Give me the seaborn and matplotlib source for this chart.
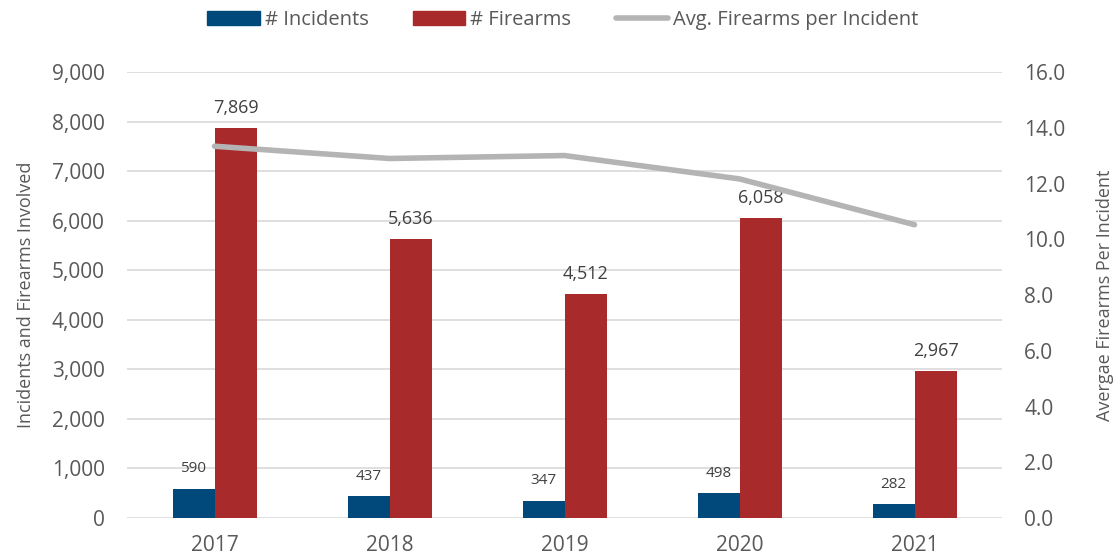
import numpy as np
import pandas as pd
import seaborn as sns
import matplotlib.pyplot as plt
from matplotlib.patches import Patch
from matplotlib.lines import Line2D

years     = ["2017", "2018", "2019", "2020", "2021"]
incidents = [590, 437, 347, 498, 282]
firearms  = [7869, 5636, 4512, 6058, 2967]
avg_per   = [f / i for f, i in zip(firearms, incidents)]

blue  = '#00497A'
red   = '#A82A2A'
grey  = '#B4B4B4'
txt   = '#595959'

sns.set_style('white')
plt.rcParams['font.family'] = ['Open Sans', 'DejaVu Sans']

df = pd.DataFrame({'year': years * 2,
                   'value': incidents + firearms,
                   'series': ['# Incidents'] * 5 + ['# Firearms'] * 5})

fig = plt.figure(figsize=(11.19, 5.6), dpi=100)
ax = fig.add_axes([127/1119, 42/560, 875/1119, 446/560])
sns.barplot(data=df, x='year', y='value', hue='series', saturation=1,
            palette=[blue, red], width=0.48, gap=0, linewidth=0, ax=ax, legend=False)
ax.set_xlim(-0.5, 4.5)
ax.set_ylim(0, 9000)
ax.set_yticks(np.arange(0, 9001, 1000))
ax.set_yticklabels([f'{v:,}' for v in range(0, 9001, 1000)])
ax.grid(axis='y', color='#D9D9D9', linewidth=1.2)
ax.set_axisbelow(True)
for s in ax.spines.values():
    s.set_visible(False)
ax.tick_params(axis='both', length=0, labelsize=15, colors=txt, pad=16)
ax.tick_params(axis='x', pad=12)
ax.set_xlabel('')
ax.set_ylabel('Incidents and Firearms Involved', fontsize=13, color=txt, labelpad=12)

# data labels
for cont, fs, pad in zip(ax.containers, [11, 13], [9, 8]):
    ax.bar_label(cont, labels=[f'{v:,.0f}' for v in cont.datavalues],
                 padding=pad, fontsize=fs, color='#404040')

ax2 = ax.twinx()
sns.lineplot(x=np.arange(5), y=avg_per, color=grey, linewidth=4, ax=ax2)
ax2.set_ylim(0, 16)
ax2.set_yticks(np.arange(0, 16.1, 2))
ax2.set_yticklabels([f'{v:.1f}' for v in np.arange(0, 16.1, 2)])
for s in ax2.spines.values():
    s.set_visible(False)
ax2.tick_params(axis='y', length=0, labelsize=15, colors=txt, pad=16)
ax2.set_ylabel('Avergae Firearms Per Incident', fontsize=13, color=txt, labelpad=22)
ax2.grid(False)

handles = [Patch(color=blue), Patch(color=red), Line2D([], [], color=grey, linewidth=4)]
labels = ['# Incidents', '# Firearms', 'Avg. Firearms per Incident']
fig.legend(handles, labels, loc='center', bbox_to_anchor=(0.503, 0.964), ncol=3,
           frameon=False, fontsize=14.5, labelcolor=txt, handlelength=2.6,
           handletextpad=0.25, columnspacing=2.2, handleheight=0.65)

plt.savefig('out.png', dpi=100)
